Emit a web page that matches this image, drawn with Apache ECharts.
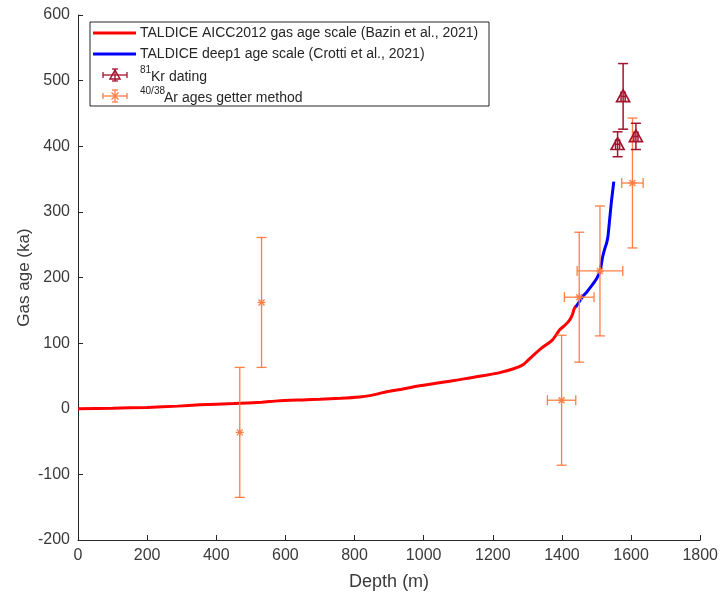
<!DOCTYPE html>
<html>
<head>
<meta charset="utf-8">
<script src="https://cdn.jsdelivr.net/npm/echarts@6/dist/echarts.min.js"></script>
<style>html,body{margin:0;padding:0;background:#fff}#c{width:721px;height:596px}</style>
</head>
<body>
<div id="c"></div>
<script>
// AICC2012 gas age scale (red)
const aiccDepth = [0, 100, 200, 289, 352, 450, 532, 578, 650, 700, 760, 815, 844, 870, 892, 940, 988, 1050, 1100, 1133, 1180, 1220, 1260, 1287, 1310, 1340, 1373, 1393, 1410, 1422, 1430, 1436, 1442];
const aiccAge   = [0, 0.8, 2, 4, 6, 8, 10, 12, 13.5, 14.5, 16, 18, 20, 23, 26, 30, 35, 40, 44, 47, 51, 55, 61, 67, 78, 92, 105, 120, 128, 135, 143, 153, 157];
// deep1 age scale (blue)
const deep1Depth = [1440, 1450, 1460, 1472, 1484, 1495, 1503, 1510, 1513, 1518, 1524, 1529, 1533, 1537, 1543, 1550];
const deep1Age   = [155, 163, 171, 178, 186, 194, 201, 210, 217, 232, 244, 252, 262, 283, 315, 346];
// 81Kr dating
const krDepth = [1561, 1577, 1614];
const krAge = [403, 476, 415];
const krAgeErr = [19, 50, 20];
const krDepthErr = [6, 6, 6];
// 40/38Ar ages getter method
const arDepth = [468, 531, 1399, 1450, 1510, 1604];
const arAge = [-36, 162, 13, 170, 210, 344];
const arAgeErr = [99, 99, 99, 99, 99, 99];
const arDepthErr = [0, 0, 41, 43, 66, 31];

const krColor = '#A2142F';
const arColor = '#FF7F45';
const axisColor = '#262626';
const labelColor = '#3a3a3a';
const FONT = 'Liberation Sans, Arial, sans-serif';

function zip(a, b) { return a.map((v, i) => [v, b[i]]); }

function errRender(color, marker, capHalf, lw) {
  return function (params, api) {
    const x = api.value(0), y = api.value(1), ey = api.value(2), ex = api.value(3);
    const c = api.coord([x, y]);
    const t = api.coord([x, y + ey]);
    const b = api.coord([x, y - ey]);
    const st = { stroke: color, lineWidth: lw, fill: null };
    const ch = [];
    const L = (x1, y1, x2, y2) => ch.push({ type: 'line', shape: { x1, y1, x2, y2 }, style: st });
    L(c[0], t[1], c[0], b[1]);
    L(c[0] - capHalf, t[1], c[0] + capHalf, t[1]);
    L(c[0] - capHalf, b[1], c[0] + capHalf, b[1]);
    if (ex > 0) {
      const l = api.coord([x - ex, y]);
      const r = api.coord([x + ex, y]);
      L(l[0], c[1], r[0], c[1]);
      L(l[0], c[1] - capHalf, l[0], c[1] + capHalf);
      L(r[0], c[1] - capHalf, r[0], c[1] + capHalf);
    }
    if (marker === 'tri') {
      const s = 6.5;
      ch.push({ type: 'polygon', shape: { points: [[c[0], c[1] - s], [c[0] + s, c[1] + s * 0.8], [c[0] - s, c[1] + s * 0.8]] }, style: { stroke: color, lineWidth: 1.7, fill: null } });
    } else {
      const s = 4;
      L(c[0] - s, c[1], c[0] + s, c[1]);
      L(c[0], c[1] - s, c[0], c[1] + s);
      L(c[0] - s * 0.75, c[1] - s * 0.75, c[0] + s * 0.75, c[1] + s * 0.75);
      L(c[0] - s * 0.75, c[1] + s * 0.75, c[0] + s * 0.75, c[1] - s * 0.75);
    }
    return { type: 'group', children: ch };
  };
}

const krData = krDepth.map((d, i) => [d, krAge[i], krAgeErr[i], krDepthErr[i]]);
const arData = arDepth.map((d, i) => [d, arAge[i], arAgeErr[i], arDepthErr[i]]);

// Legend drawn as graphics
const textStyle = { fontFamily: FONT, fontSize: 14, fill: '#262626' };
function legendErr(cy, color, marker) {
  const cx = 115, ch = [];
  const st = { stroke: color, lineWidth: 1.3 };
  const L = (x1, y1, x2, y2) => ch.push({ type: 'line', z: 102, shape: { x1, y1, x2, y2 }, style: st });
  L(103, cy, 127, cy);
  L(103, cy - 3, 103, cy + 3);
  L(127, cy - 3, 127, cy + 3);
  L(cx, cy - 6, cx, cy + 6);
  L(cx - 3, cy - 6, cx + 3, cy - 6);
  L(cx - 3, cy + 6, cx + 3, cy + 6);
  if (marker === 'tri') {
    ch.push({ type: 'polygon', z: 102, shape: { points: [[cx, cy - 5], [cx + 5, cy + 4], [cx - 5, cy + 4]] }, style: { stroke: color, lineWidth: 1.5, fill: null } });
  } else {
    const s = 3.5;
    L(cx - s, cy - s, cx + s, cy + s);
    L(cx - s, cy + s, cx + s, cy - s);
  }
  return ch;
}

const graphics = [
  { type: 'rect', shape: { x: 90, y: 22, width: 399, height: 84 }, style: { fill: '#fff', stroke: '#262626', lineWidth: 1 }, z: 100 },
  { type: 'line', shape: { x1: 93, y1: 33, x2: 136, y2: 33 }, style: { stroke: '#FF0000', lineWidth: 3 }, z: 101 },
  { type: 'text', x: 140, y: 33, style: Object.assign({ text: 'TALDICE AICC2012 gas age scale (Bazin et al., 2021)', verticalAlign: 'middle' }, textStyle), z: 101 },
  { type: 'line', shape: { x1: 93, y1: 54, x2: 136, y2: 54 }, style: { stroke: '#0000FF', lineWidth: 3 }, z: 101 },
  { type: 'text', x: 140, y: 54, style: Object.assign({ text: 'TALDICE deep1 age scale (Crotti et al., 2021)', verticalAlign: 'middle' }, textStyle), z: 101 }
].concat(legendErr(75, krColor, 'tri'), legendErr(96, arColor, 'star'), [
  { type: 'text', x: 140, y: 70, style: { text: '81', fontFamily: FONT, fontSize: 10, fill: '#262626', verticalAlign: 'middle' }, z: 101 },
  { type: 'text', x: 151, y: 77, style: Object.assign({ text: 'Kr dating', verticalAlign: 'middle' }, textStyle), z: 101 },
  { type: 'text', x: 140, y: 91, style: { text: '40/38', fontFamily: FONT, fontSize: 10, fill: '#262626', verticalAlign: 'middle' }, z: 101 },
  { type: 'text', x: 164, y: 98, style: Object.assign({ text: 'Ar ages getter method', verticalAlign: 'middle' }, textStyle), z: 101 }
]);

const chart = echarts.init(document.getElementById('c'), null, { renderer: 'canvas' });
chart.setOption({
  animation: false,
  backgroundColor: '#fff',
  grid: { left: 78, right: 19, top: 15, bottom: 56, containLabel: false },
  xAxis: {
    type: 'value', min: 0, max: 1800, interval: 200,
    name: 'Depth (m)', nameLocation: 'middle', nameGap: 33,
    nameTextStyle: { fontSize: 18, color: labelColor, fontFamily: FONT },
    axisLine: { show: true, onZero: false, lineStyle: { color: axisColor, width: 1 } },
    axisTick: { show: true, inside: true, length: 5, lineStyle: { color: axisColor } },
    axisLabel: { fontSize: 16, color: labelColor, margin: 8, fontFamily: FONT, formatter: v => String(v) },
    splitLine: { show: false }
  },
  yAxis: {
    type: 'value', min: -200, max: 600, interval: 100,
    name: 'Gas age (ka)', nameLocation: 'middle', nameGap: 45, nameRotate: 90, nameMoveOverlap: false,
    nameTextStyle: { fontSize: 17, color: labelColor, fontFamily: FONT },
    axisLine: { show: true, onZero: false, lineStyle: { color: axisColor, width: 1 } },
    axisTick: { show: true, inside: true, length: 5, lineStyle: { color: axisColor } },
    axisLabel: { fontSize: 16, color: labelColor, margin: 8, fontFamily: FONT, formatter: v => String(v) },
    splitLine: { show: false }
  },
  series: [
    { name: 'TALDICE AICC2012 gas age scale (Bazin et al., 2021)', type: 'line', data: zip(aiccDepth, aiccAge), showSymbol: false, smooth: 0.2, lineStyle: { color: '#FF0000', width: 3 }, z: 3 },
    { name: 'TALDICE deep1 age scale (Crotti et al., 2021)', type: 'line', data: zip(deep1Depth, deep1Age), showSymbol: false, smooth: 0.2, lineStyle: { color: '#0000FF', width: 3 }, z: 4 },
    { name: '81Kr dating', type: 'custom', data: krData, renderItem: errRender(krColor, 'tri', 5, 1.5), encode: { x: 0, y: 1 }, z: 6 },
    { name: '40/38Ar ages getter method', type: 'custom', data: arData, renderItem: errRender(arColor, 'star', 5, 1.3), encode: { x: 0, y: 1 }, z: 5 }
  ],
  graphic: graphics
});
</script>
</body>
</html>
